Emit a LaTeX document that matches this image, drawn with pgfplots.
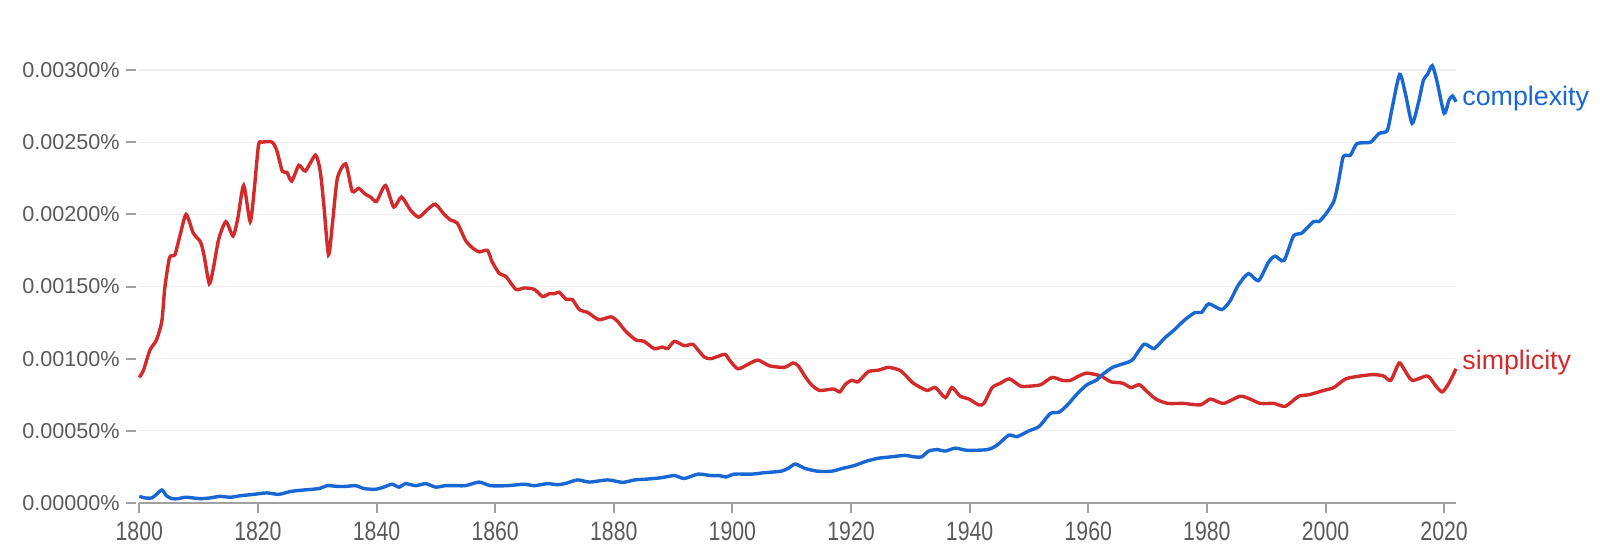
\documentclass[border=0pt]{standalone}
\usepackage{fontspec}
\setmainfont{Liberation Sans}
\newfontfamily\condfont[FakeStretch=0.8]{Liberation Sans}
\usepackage{pgfplots}
\pgfplotsset{compat=1.18}
\definecolor{ngblue}{RGB}{25,103,210}
\definecolor{ngred}{RGB}{211,43,43}
\definecolor{axgray}{RGB}{160,160,160}
\definecolor{txtgray}{RGB}{90,90,90}
\definecolor{gridgray}{RGB}{238,238,238}
\begin{document}
\begin{tikzpicture}
\useasboundingbox (-69.65pt,-25pt) rectangle (730.35pt,251.5pt);
\begin{axis}[
  at={(0,0)}, anchor=south west,
  scale only axis, width=658.35pt, height=216.5pt,
  xmin=1800, xmax=2022, ymin=0, ymax=0.003,
  clip=false, scaled y ticks=false, scaled x ticks=false,
  axis x line=bottom, axis y line=left,
  x axis line style={-, draw=axgray, line width=1pt},
  y axis line style={draw=none},
  tick align=outside, major tick length=5pt,
  xtick={1800,1820,...,2020},
  xticklabels={1800,1820,1840,1860,1880,1900,1920,1940,1960,1980,2000,2020},
  ytick={0,0.0005,0.001,0.0015,0.002,0.0025,0.003},
  yticklabels={0.00000\%,0.00050\%,0.00100\%,0.00150\%,0.00200\%,0.00250\%,0.00300\%},
  xtick style={draw=axgray, line width=1pt},
  ytick style={draw=axgray, line width=1pt, xshift=-1.5pt},
  x tick label style={font=\condfont\fontsize{13.3}{14}\selectfont, text=txtgray, inner sep=0pt, anchor=north, yshift=-4.25pt},
  y tick label style={font=\fontsize{10.8}{12}\selectfont, text=txtgray, inner sep=0pt, anchor=east, xshift=-4.65pt},
  ymajorgrids, y grid style={draw=gridgray, line width=0.6pt},
]
% simplicity
\addplot[ngred, line width=1.7pt, smooth, tension=0.4] coordinates {
(1800,0.00087) (1800.7,0.00092) (1801.8,0.00106) (1802.9,0.00113) (1803.8,0.00126)
(1804.3,0.00149) (1805.1,0.00170) (1806,0.00172) (1806.9,0.00186) (1807.9,0.00200)
(1809.1,0.00187) (1810.3,0.00181) (1810.9,0.00172) (1811.8,0.00152) (1812.5,0.00163)
(1813.4,0.00183) (1814.6,0.00195) (1815.8,0.00185) (1816.6,0.00197) (1817.6,0.00220)
(1818.7,0.00195) (1819.4,0.00218) (1820.1,0.00248) (1820.7,0.00250) (1822.4,0.00250)
(1823.2,0.00244) (1824.1,0.00230) (1824.9,0.00229) (1825.7,0.00223) (1826.9,0.00234)
(1828,0.00230) (1829.7,0.00241) (1830.5,0.00230) (1831.1,0.00207) (1831.9,0.00172)
(1832.6,0.00195) (1833.4,0.00225) (1834.8,0.00235) (1835.9,0.00216) (1837,0.00218)
(1838.1,0.00214) (1839,0.00212) (1840,0.00209) (1841.5,0.00220) (1842.9,0.00205)
(1844.2,0.00212) (1845.7,0.00203) (1847.1,0.00198) (1848.5,0.00203) (1849.9,0.00207)
(1851.4,0.00200) (1852.5,0.00196) (1853.6,0.00194) (1855,0.00182) (1856.1,0.00177)
(1857.3,0.00174) (1858.7,0.00175) (1859.5,0.00167) (1860.7,0.00159) (1861.8,0.00157)
(1863.5,0.00148) (1864.9,0.00149) (1866.6,0.00148) (1868,0.00143) (1869.1,0.00145)
(1870,0.00145) (1870.8,0.00146) (1872,0.00141) (1873,0.00141) (1874.2,0.00134)
(1875.6,0.00132) (1877.5,0.00127) (1879.5,0.00129) (1880.6,0.00126) (1882,0.00119)
(1883.7,0.00113) (1885.1,0.00112) (1886.8,0.00107) (1888.2,0.00108) (1889.1,0.00107)
(1890.2,0.00112) (1891.9,0.00109) (1893.3,0.00110) (1894.2,0.00106) (1895.3,0.00101)
(1896.4,0.00100) (1898.7,0.00103) (1899.5,0.00099) (1900.9,0.00093) (1902.6,0.00096)
(1904.3,0.00099) (1906.3,0.00095) (1908.8,0.00094) (1910.2,0.00097) (1911.1,0.00095)
(1912.2,0.00088) (1913.3,0.00082) (1914.7,0.00078) (1917,0.00079) (1918.1,0.00077)
(1919,0.00082) (1920.1,0.00085) (1921.2,0.00084) (1922.9,0.00091) (1924.6,0.00092)
(1926.3,0.00094) (1928.2,0.00092) (1929.3,0.00088) (1930.5,0.00083) (1932.8,0.00078)
(1934.2,0.00080) (1935.9,0.00073) (1937,0.00080) (1938.4,0.00074) (1939.9,0.00072)
(1941.5,0.00068) (1942.4,0.00069) (1943.8,0.00080) (1945.2,0.00083) (1946.7,0.00086)
(1948.6,0.00081) (1950.3,0.00081) (1952,0.00082) (1953.9,0.00087) (1955.6,0.00085)
(1957,0.00085) (1958.4,0.00088) (1959.8,0.00090) (1962.1,0.00088) (1963.8,0.00084)
(1965.8,0.00083) (1967.2,0.00080) (1968.6,0.00082) (1969.7,0.00078) (1971.4,0.00072)
(1973.4,0.00069) (1976,0.00069) (1978.9,0.00068) (1980.6,0.00072) (1982.8,0.00069)
(1985.6,0.00074) (1987.3,0.00072) (1989,0.00069) (1991.3,0.00069) (1993.2,0.00067)
(1995.5,0.00074) (1997.2,0.00075) (1999.7,0.00078) (2001.4,0.00080) (2003.4,0.00086)
(2005.9,0.00088) (2008.1,0.00089) (2009.8,0.00088) (2011,0.00085) (2012.4,0.00097)
(2013.2,0.00093) (2014.6,0.00085) (2017.2,0.00088) (2018.6,0.00081) (2019.7,0.00077)
(2020.8,0.00083) (2022,0.00093)
};
% complexity
\addplot[ngblue, line width=1.7pt, smooth, tension=0.4] coordinates {
(1800,0.000046) (1801,0.000035) (1802.1,0.000035) (1802.9,0.00006) (1803.8,0.00009)
(1804.6,0.00005) (1805.5,0.00003) (1806.6,0.00003) (1807.7,0.00004) (1809.1,0.000035)
(1810.3,0.00003) (1811.9,0.000035) (1813.6,0.000046) (1815.3,0.00004) (1817,0.00005)
(1819.3,0.00006) (1821.5,0.00007) (1823.5,0.00006) (1825.5,0.00008) (1827.7,0.00009)
(1830.3,0.00010) (1831.7,0.00012) (1833.4,0.000115) (1834.8,0.000115) (1836.5,0.00012)
(1837.9,0.00010) (1839.8,0.000095) (1841.2,0.00011) (1842.6,0.00013) (1843.8,0.00011)
(1844.9,0.000134) (1846.6,0.00012) (1848.3,0.000134) (1849.95,0.00011) (1851.6,0.00012)
(1853.6,0.00012) (1855,0.00012) (1857.3,0.000145) (1859.2,0.00012) (1862,0.00012)
(1864.9,0.00013) (1866.6,0.00012) (1868.8,0.000134) (1870.5,0.000127) (1871.9,0.000136)
(1873.9,0.00016) (1875.9,0.000145) (1879,0.00016) (1881.5,0.000143) (1883.5,0.00016)
(1885.7,0.000166) (1888,0.000175) (1890.2,0.00019) (1891.9,0.00017) (1894.2,0.00020)
(1896.4,0.00019) (1897.8,0.00019) (1898.9,0.00018) (1900.3,0.00020) (1903.2,0.00020)
(1905.4,0.00021) (1908.2,0.00022) (1909.4,0.00024) (1910.6,0.00027) (1912.2,0.00024)
(1914.4,0.00022) (1916.7,0.00022) (1918.6,0.00024) (1920.6,0.00026) (1922.6,0.00029)
(1924.6,0.00031) (1926.8,0.00032) (1929.1,0.00033) (1930.6,0.00032) (1931.9,0.00032)
(1933.1,0.00036) (1934.5,0.00037) (1935.9,0.00036) (1937.6,0.00038) (1939.6,0.000365)
(1943,0.00037) (1944.6,0.00040) (1946.6,0.00047) (1948,0.00046) (1950,0.00050)
(1951.7,0.00053) (1953.6,0.00062) (1955.1,0.00063) (1956.5,0.00068) (1958.2,0.00076)
(1959.8,0.00082) (1961.3,0.00085) (1962.7,0.00090) (1964.1,0.00094) (1965.5,0.00096)
(1967.4,0.00099) (1969.4,0.00110) (1971.1,0.00107) (1972.8,0.00114) (1974.5,0.00120)
(1976.3,0.00127) (1978,0.00132) (1979.1,0.00132) (1980.3,0.00138) (1982.5,0.00134)
(1983.9,0.00140) (1985.3,0.00151) (1987,0.00159) (1988.7,0.00154) (1990.4,0.00167)
(1991.5,0.00171) (1993,0.00168) (1994.6,0.00185) (1996,0.00187) (1998,0.00195)
(1998.9,0.00195) (2000,0.00200) (2001.4,0.00209) (2002.2,0.00223) (2003,0.00240)
(2004.2,0.00241) (2005.3,0.00249) (2007.6,0.00250) (2009,0.00256) (2010.4,0.00258)
(2011.2,0.00273) (2012.5,0.00297) (2013.5,0.00283) (2014.6,0.00263) (2015.7,0.00278)
(2016.5,0.00293) (2017.2,0.00297) (2018,0.00303) (2018.8,0.00292) (2020,0.00270)
(2020.8,0.00279) (2021.4,0.00282) (2022,0.00278)
};
\node[anchor=west, inner sep=0pt, xshift=3pt, text=ngblue, font=\fontsize{13.4}{15}\selectfont] at (axis cs:2022,0.002804) {complexity};
\node[anchor=west, inner sep=0pt, xshift=3pt, text=ngred, font=\fontsize{13.4}{15}\selectfont] at (axis cs:2022,0.000975) {simplicity};
\end{axis}
\end{tikzpicture}
\end{document}
